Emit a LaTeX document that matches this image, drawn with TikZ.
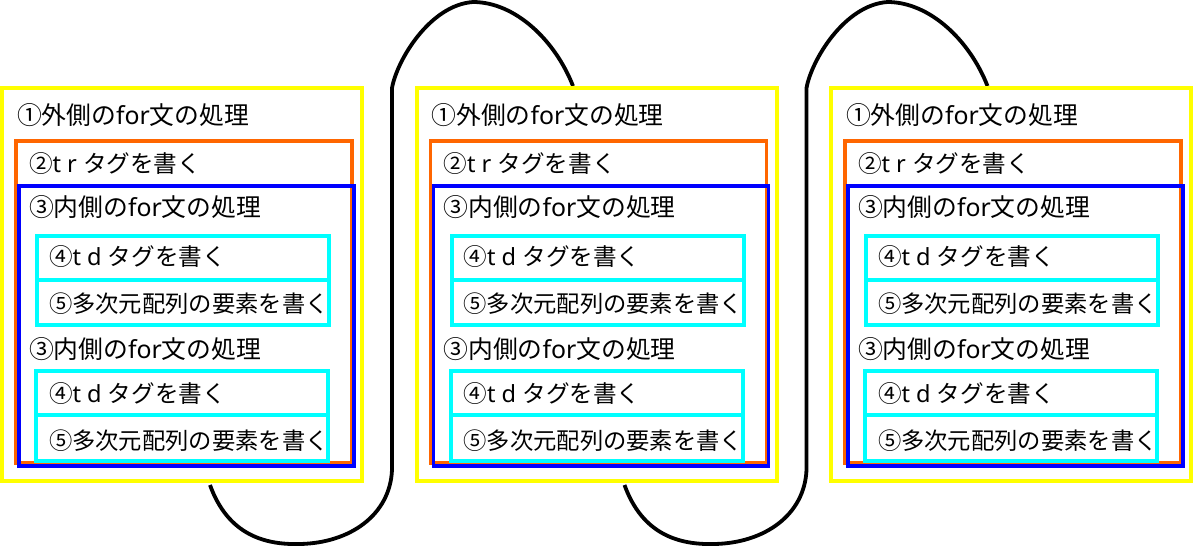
\documentclass[tikz,border=0pt]{standalone}
\usepackage{fontspec}
\setmainfont{Noto Sans CJK JP}
\newfontfamily\lat{Noto Sans}
\definecolor{yel}{RGB}{255,255,0}
\definecolor{org}{RGB}{255,102,0}
\definecolor{blu}{RGB}{0,0,255}
\definecolor{cya}{RGB}{0,255,255}
\tikzset{
  box/.style={anchor=north west, inner sep=0pt, outer sep=0pt},
  ybox/.style={box, draw=yel, line width=4pt, minimum width=360pt, minimum height=393pt},
  obox/.style={box, draw=org, line width=3.5pt, minimum width=336pt, minimum height=322pt},
  bbox/.style={box, draw=blu, line width=3.5pt, minimum width=335pt, minimum height=280pt},
  cbox/.style={box, draw=cya, line width=4pt, minimum width=292pt},
  lbl/.style={anchor=base west, inner sep=0pt, outer sep=0pt},
  lblA/.style={lbl, font=\fontsize{24.8}{29}\selectfont},
  lblB/.style={lbl, font=\fontsize{23.6}{28}\selectfont},
  lblC/.style={lbl, font=\fontsize{23.3}{28}\selectfont},
  link/.style={draw=black, line width=3.8pt}
}
\begin{document}
\begin{tikzpicture}[x=1pt, y=-1pt]
\useasboundingbox (0,0) rectangle (1194,546);
\fill[white] (0,0) rectangle (1194,546);
% connectors
\foreach \k/\dx in {1/0, 2/414.5}{
  \begin{scope}[xshift=\dx pt]
    \coordinate (s\k) at (210,485);
    \coordinate (b\k) at (300,544);
    \coordinate (v\k) at (392,470);
    \coordinate (u\k) at (392,88);
    \coordinate (t\k) at (473,2);
    \coordinate (e\k) at (573,86);
    \path[link] (s\k) .. controls (228,535) and (265,545) .. (b\k)
      .. controls (350,543) and (390,515) .. (v\k) -- (u\k)
      .. controls (397,60) and (430,5) .. (t\k)
      .. controls (515,2) and (555,40) .. (e\k);
  \end{scope}
}
% panels
\foreach \i/\dx in {1/0, 2/414.5, 3/829}{
  \begin{scope}[xshift=\dx pt]
    \node[ybox] (y\i) at (2,88) {};
    \node[obox] (o\i) at (16,141) {};
    \node[bbox] (bl\i) at (19,186) {};
    \node[cbox, minimum height=44pt] (ca\i) at (37,236) {};
    \node[cbox, minimum height=45pt] (cb\i) at (37,280) {};
    \node[cbox, minimum height=44pt] (cc\i) at (36,371) {};
    \node[cbox, minimum height=46pt] (cd\i) at (36,415) {};
    \node[lblA] (ta\i) at (17,124) {①外側の{\lat for}文の処理};
    \node[lblB] (tb\i) at (29,172) {②{\lat t r }タグを書く};
    \node[lblA] (tc\i) at (29,216) {③内側の{\lat for}文の処理};
    \node[lblB] (td\i) at (49,265) {④{\lat t d }タグを書く};
    \node[lblC] (te\i) at (49,312) {⑤多次元配列の要素を書く};
    \node[lblA] (tf\i) at (29,358) {③内側の{\lat for}文の処理};
    \node[lblB] (tg\i) at (49,402) {④{\lat t d }タグを書く};
    \node[lblC] (th\i) at (49,449) {⑤多次元配列の要素を書く};
  \end{scope}
}
\end{tikzpicture}
\end{document}
